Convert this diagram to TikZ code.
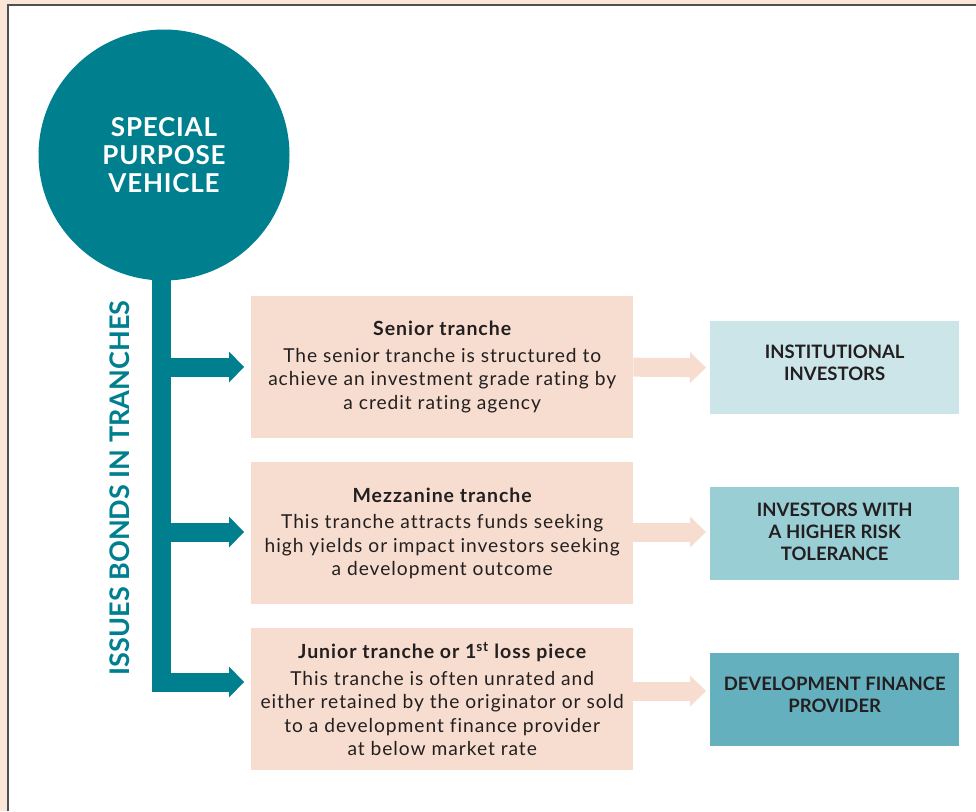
\documentclass[tikz,border=0pt]{standalone}
\usepackage{fontspec}
\setmainfont{Lato}
\newfontfamily\bodyfont[LetterSpace=5,Ligatures=NoCommon]{Lato}
\newfontfamily\circfont[LetterSpace=3]{Lato}
\usetikzlibrary{arrows.meta}
\definecolor{tealc}{HTML}{007F8E}
\definecolor{bgpeach}{HTML}{FBE6D8}
\definecolor{boxpeach}{HTML}{F6DDCF}
\definecolor{bordergray}{HTML}{505050}
\definecolor{invA}{HTML}{CCE5E9}
\definecolor{invB}{HTML}{9ACED5}
\definecolor{invC}{HTML}{65B0BE}
\definecolor{txt}{HTML}{231F20}
\tikzset{
  tranchebox/.style={fill=boxpeach, draw=none, minimum width=382pt, minimum height=142pt,
    inner sep=0pt, anchor=north west, align=center, text=txt,
    font=\bodyfont\fontsize{19.2}{23.5}\selectfont},
  invbox/.style={draw=none, minimum width=249pt, minimum height=93pt, inner sep=0pt,
    anchor=north west},
  invtext/.style={inner sep=0pt, align=center, text=txt, font=\bfseries\fontsize{18.5}{22}\selectfont},
  tealarm/.style={draw=tealc, line width=19pt, line join=miter,
    -{Triangle[length=15pt,width=31pt,line width=0pt]}, shorten >=7pt},
  peacharrow/.style={draw=boxpeach, line width=19pt,
    -{Triangle[length=16pt,width=31pt,line width=0pt]}, shorten >=4pt},
}
\begin{document}
\begin{tikzpicture}[x=1pt,y=-1pt]
\useasboundingbox (0,0) rectangle (976,811);
\fill[bgpeach] (0,0) rectangle (976,811);
\fill[white] (9,6) rectangle (976,811);
\draw[bordergray, line width=2pt] (8,811) -- (8,5) -- (976,5);

% tranche boxes
\node[tranchebox] (t1) at (251,296) {{\bfseries\fontsize{19.5}{23}\selectfont Senior tranche}\\[3pt]
The senior tranche is structured to\\achieve an investment grade rating by\\a credit rating agency};
\node[tranchebox] (t2) at (251,462) {{\bfseries\fontsize{19.5}{23}\selectfont Mezzanine tranche}\\[3pt]
This tranche attracts funds seeking\\high yields or impact investors seeking\\a development outcome};
\node[tranchebox] (t3) at (251,628) {{\bfseries\fontsize{19.5}{23}\selectfont Junior tranche or 1\textsuperscript{st} loss piece}\\[3pt]
This tranche is often unrated and\\either retained by the originator or sold\\to a development finance provider\\at below market rate};

% investor boxes
\node[invbox, fill=invA, label={[invtext, yshift=5pt]center:INSTITUTIONAL\\INVESTORS}] (i1) at (710,321) {};
\node[invbox, fill=invB, label={[invtext, yshift=1.5pt]center:INVESTORS WITH\\A HIGHER RISK\\TOLERANCE}] (i2) at (710,487) {};
\node[invbox, fill=invC, label={[invtext, yshift=5pt]center:DEVELOPMENT FINANCE\\PROVIDER}] (i3) at (710,653) {};

% junction coordinates
\coordinate (j1) at (161,367);
\coordinate (j2) at (161,532);
\coordinate (j3) at (161,682);
\coordinate (a3) at (0,691);

% circle
\node[circle, fill=tealc, minimum size=251pt, inner sep=0pt, text=white, align=center,
  font=\circfont\bfseries\fontsize{26}{28}\selectfont] (spv) at (164,155) {SPECIAL\\PURPOSE\\VEHICLE};

% stem and arms
\draw[tealarm] ([yshift=20pt]spv.south -| j3) -- (j3) -- (t3.west |- j3);
\draw[tealarm] (j1) -- (t1.west |- j1);
\draw[tealarm] (j2) -- (t2.west |- j2);

% peach arrows
\draw[peacharrow] (t1.east) -- (i1.west);
\draw[peacharrow] (t2.east |- j2) -- (i2.west |- j2);
\draw[peacharrow] (t3.east |- a3) -- (i3.west |- a3);

% vertical label
\node[rotate=90, text=tealc, inner sep=0pt, font=\bfseries\fontsize{27}{27}\selectfont] (lab) at (120,488) {ISSUES BONDS IN TRANCHES};
\end{tikzpicture}
\end{document}
